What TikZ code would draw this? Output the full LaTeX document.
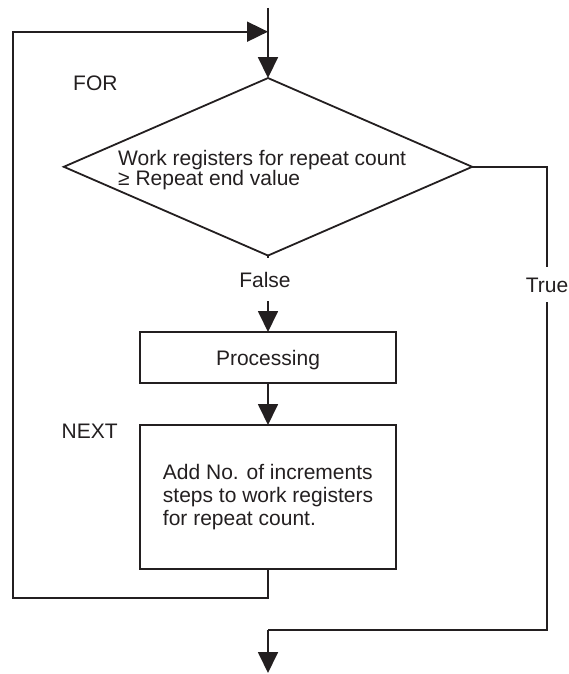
\documentclass[tikz,border=0pt]{standalone}
\usepackage{fontspec}
\setmainfont{Liberation Sans}
\usetikzlibrary{arrows.meta,shapes.geometric}
\definecolor{ink}{HTML}{231F20}
\begin{document}
\begin{tikzpicture}[x=1pt,y=-1pt,
  line/.style={draw=ink,line width=1.8pt},
  arr/.style={line,-{Triangle[length=21pt,width=20pt]}},
  lbl/.style={inner sep=0pt,anchor=base west,text=ink,font=\fontsize{21}{24}\selectfont},
  edgelbl/.style={text=ink,font=\fontsize{21}{24}\selectfont,inner xsep=0pt,text height=15pt,text depth=0pt},
  boxnode/.style={draw=ink,line width=1.8pt,rectangle,inner sep=0pt,outer sep=0pt,text=ink,minimum width=256pt}]
\useasboundingbox (0,0) rectangle (569,674);
% shapes
\node[draw=ink,line width=1.8pt,diamond,minimum width=408.4pt,minimum height=177.5pt,inner sep=0pt,outer sep=0pt] (dia) at (268,166.8) {};
\node[lbl,align=left,font=\fontsize{21}{20.6}\selectfont] (cond) at (118,185.7) {Work registers for repeat count\\≥ Repeat end value};
\node[boxnode,minimum height=51pt,text height=15pt,text depth=0pt,font=\fontsize{21}{24}\selectfont] (proc) at (268,357.5) {Processing};
\node[boxnode,minimum height=144pt,align=left,font=\fontsize{21}{23.3}\selectfont] (next) at (268,497) {Add No. of increments\\steps to work registers\\for repeat count.};
% labels
\node[lbl] (for) at (73,91) {FOR};
\node[lbl] (nextlbl) at (61.5,438.3) {NEXT};
\node[edgelbl,inner ysep=14pt] (false) at (265,279.5) {False};
\node[edgelbl,inner ysep=10pt] (true) at (547,284.5) {True};
% coordinates
\coordinate (top) at (268,8);
\coordinate (join) at (268,630);
\coordinate (bot) at (268,673);
\coordinate (lp) at (12.7,598);
\coordinate (lt) at (268,31.7);
% connectors
\draw[arr] (top) -- (dia.north);
\draw[line] (dia.south) -- (dia.south |- false.north);
\draw[arr] (dia.south |- false.south) -- (proc.north);
\draw[arr] (proc) -- (next);
\draw[line] (dia.east) -| (true.north);
\draw[line] (true.south) |- (join);
\draw[arr] (join) -- (bot);
\draw[arr] (next.south) |- (lp) |- (lt);
\end{tikzpicture}
\end{document}
